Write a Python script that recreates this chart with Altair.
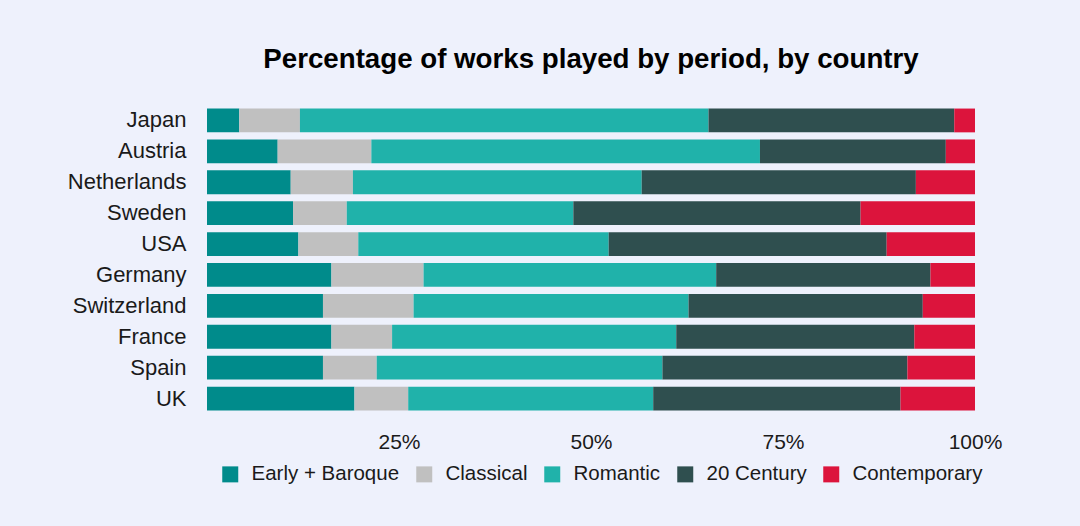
import altair as alt
import pandas as pd

countries = ["Japan", "Austria", "Netherlands", "Sweden", "USA",
             "Germany", "Switzerland", "France", "Spain", "UK"]
periods = ["Early + Baroque", "Classical", "Romantic", "20 Century", "Contemporary"]
colors = ["#008B8B", "#C0C0C0", "#20B2AA", "#2F4F4F", "#DC143C"]

early = [4.2, 9.2, 10.9, 11.2, 11.9, 16.2, 15.1, 16.2, 15.1, 19.2]
classical = [7.9, 12.2, 8.1, 7.0, 7.8, 12.0, 11.8, 7.9, 7.0, 7.0]
romantic = [53.2, 50.6, 37.6, 29.5, 32.6, 38.1, 35.8, 37.0, 37.2, 31.9]
century20 = [32.0, 24.2, 35.7, 37.4, 36.2, 27.9, 30.5, 31.0, 31.9, 32.2]
contemporary = [2.7, 3.8, 7.7, 14.9, 11.5, 5.8, 6.8, 7.9, 8.8, 9.7]

series = [early, classical, romantic, century20, contemporary]
rows = []
for pi, (p, vals) in enumerate(zip(periods, series)):
    for c, v in zip(countries, vals):
        rows.append({"country": c, "period": p, "order": pi, "value": v / 100.0})
df = pd.DataFrame(rows)

FONT = "Liberation Sans"
BG = "#EEF1FC"

chart = alt.Chart(df).mark_bar().encode(
    y=alt.Y("country:N", sort=countries,
            scale=alt.Scale(paddingInner=0.23, paddingOuter=0.115),
            axis=alt.Axis(title=None, ticks=False, domain=False, labelFontSize=22,
                          labelPadding=21, labelColor="#1a1a1a", labelFont=FONT)),
    x=alt.X("value:Q", stack="normalize",
            scale=alt.Scale(domain=[0, 1], nice=False),
            axis=alt.Axis(title=None, format=".0%", values=[0.25, 0.5, 0.75, 1.0],
                          ticks=False, domain=False, grid=False, labelFontSize=21,
                          labelPadding=17, labelColor="#1a1a1a", labelFont=FONT,
                          labelOverlap=False, labelFlush=False)),
    color=alt.Color("period:N", sort=periods,
                    scale=alt.Scale(domain=periods, range=colors),
                    legend=alt.Legend(title=None, orient="none", direction="horizontal",
                                      legendX=13, legendY=359, symbolType="square",
                                      symbolSize=256, symbolStrokeWidth=0,
                                      labelFontSize=20.5, labelFont=FONT, labelColor="#1a1a1a",
                                      labelOffset=11, columnPadding=14)),
    order=alt.Order("order:Q", sort="ascending"),
).properties(
    width=768, height=309,
    title=alt.TitleParams("Percentage of works played by period, by country",
                          fontSize=27.7, fontWeight="bold", font=FONT, color="#000000",
                          anchor="middle", offset=31),
    background=BG,
    autosize=alt.AutoSizeParams(type="none"),
    padding={"left": 207, "top": 105, "right": 105, "bottom": 112},
).configure_view(stroke=None, fill=BG)

chart.save("out.html", embed_options={"renderer": "svg", "actions": False})
